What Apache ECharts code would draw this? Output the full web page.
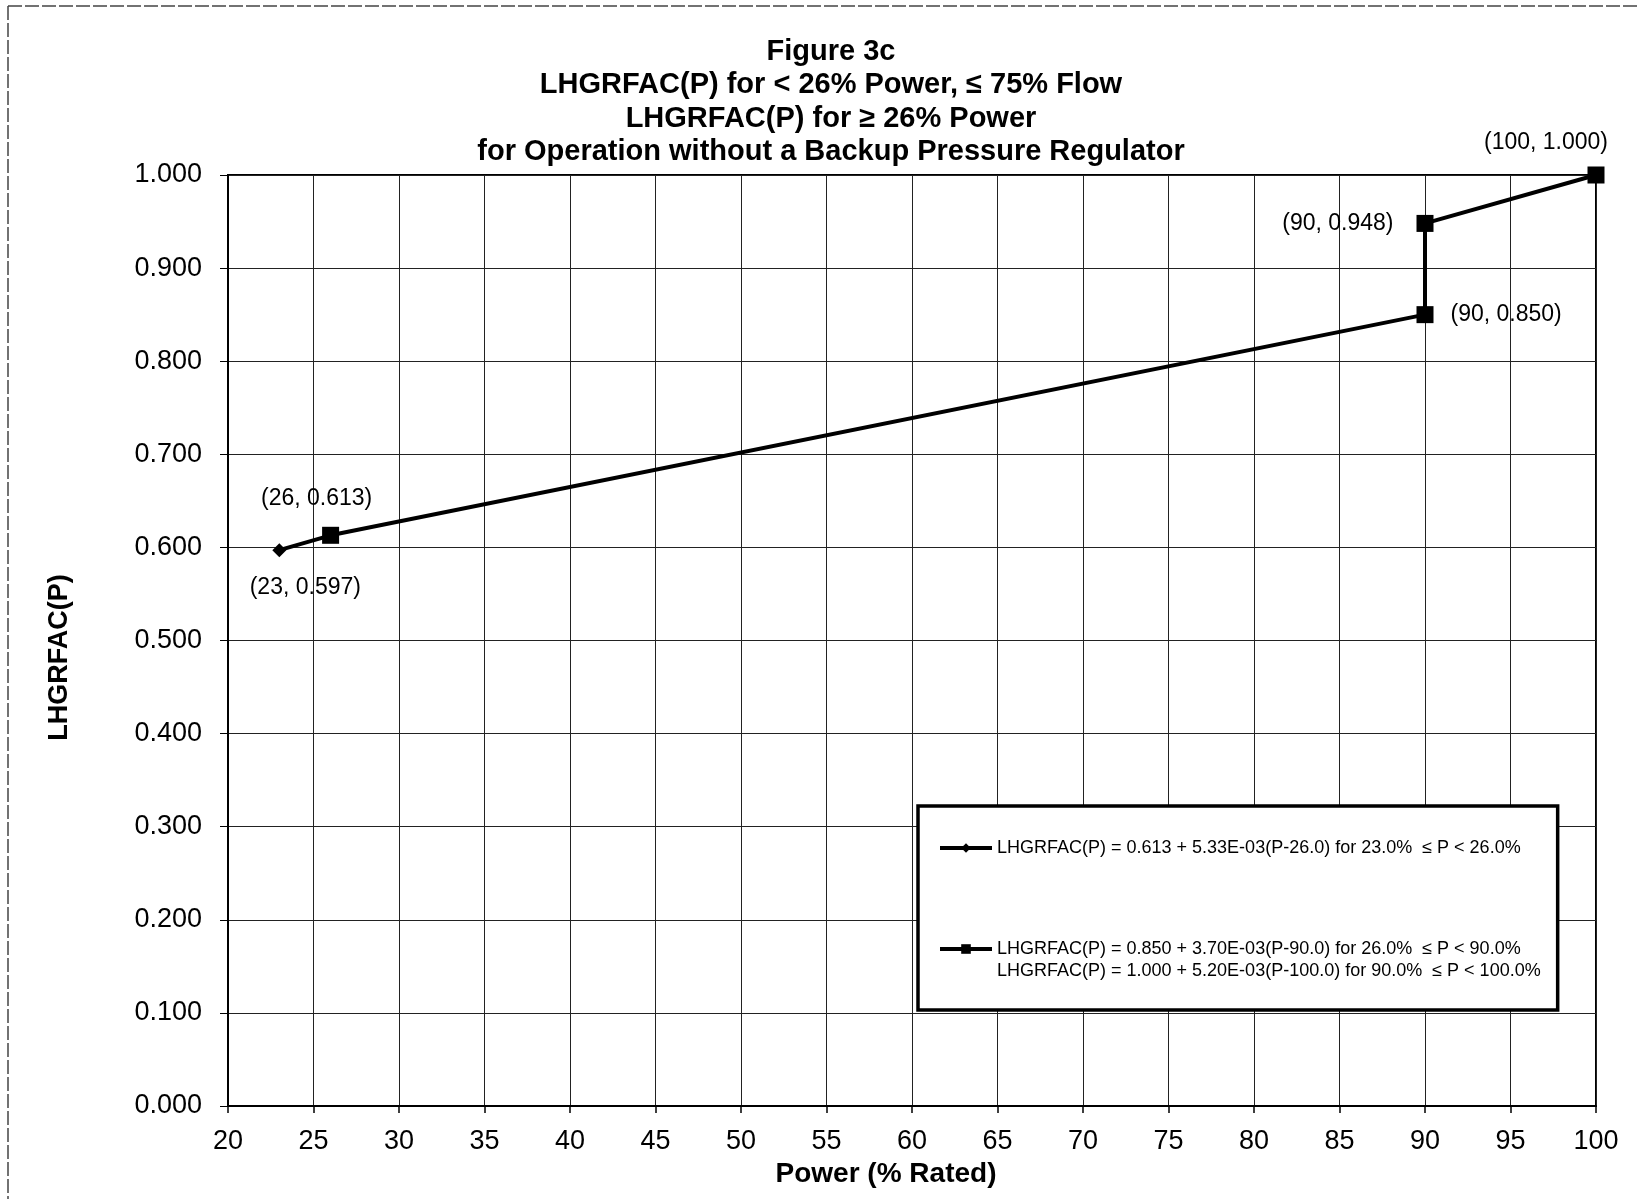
<!DOCTYPE html>
<html>
<head>
<meta charset="utf-8">
<script src="https://cdn.jsdelivr.net/npm/echarts@6/dist/echarts.min.js"></script>
<style>
html,body{margin:0;padding:0;background:#fff;}
#chart{width:1640px;height:1199px;}
</style>
</head>
<body>
<div id="chart"></div>
<script>
// ---- data ----
const titleLines = [
  'Figure 3c',
  'LHGRFAC(P) for < 26% Power, \u2264 75% Flow',
  'LHGRFAC(P) for \u2265 26% Power',
  'for Operation without a Backup Pressure Regulator'
];
const xAxisName = 'Power (% Rated)';
const yAxisName = 'LHGRFAC(P)';
const lowSeriesName = 'LHGRFAC(P) = 0.613 + 5.33E-03(P-26.0) for 23.0%  \u2264 P < 26.0%';
const highSeriesName = 'LHGRFAC(P) = 0.850 + 3.70E-03(P-90.0) for 26.0%  \u2264 P < 90.0%\nLHGRFAC(P) = 1.000 + 5.20E-03(P-100.0) for 90.0%  \u2264 P < 100.0%';
const lowPower = [23, 26];
const lowFactor = [0.597, 0.613];
const highPower = [26, 90, 90, 100];
const highFactor = [0.613, 0.850, 0.948, 1.000];
const xMin = 20, xMax = 100, xStep = 5;
const yMin = 0, yMax = 1, yStep = 0.1;

// ---- label placement (style, kept apart from data) ----
const lowLabelStyle = [
  {show: true, position: 'inside', offset: [26, 37]},
  {show: false}
];
const highLabelStyle = [
  {show: true, position: 'inside', offset: [-14, -37]},
  {show: true, position: 'right', distance: 17},
  {show: true, position: 'left', distance: 23},
  {show: true, position: 'inside', offset: [-50, -32]}
];

const FONT = '"Liberation Sans", Arial, Helvetica, sans-serif';
const fmtLabel = p => '(' + p.value[0] + ', ' + p.value[1].toFixed(3) + ')';

function buildData(xs, ys, labels) {
  return xs.map((x, i) => ({value: [x, ys[i]], label: labels[i]}));
}

const chart = echarts.init(document.getElementById('chart'), null, {renderer: 'canvas'});
const option = {
  animation: false,
  backgroundColor: '#fff',
  textStyle: {fontFamily: FONT, color: '#000'},
  title: {
    text: titleLines.join('\n'),
    left: 831,
    top: 35,
    padding: 0,
    textAlign: 'center',
    textStyle: {fontFamily: FONT, fontSize: 29, fontWeight: 'bold', color: '#000', lineHeight: 33.5}
  },
  grid: {
    left: 228, right: 44, top: 175, bottom: 93,
    show: true, borderColor: '#000', borderWidth: 2, backgroundColor: 'transparent'
  },
  xAxis: {
    type: 'value', min: xMin, max: xMax, interval: xStep,
    name: xAxisName, nameLocation: 'middle', nameGap: 45,
    nameTextStyle: {fontFamily: FONT, fontSize: 28, fontWeight: 'bold', color: '#000', padding: [0, 52, 0, 0]},
    axisLine: {show: true, onZero: false, lineStyle: {color: '#000', width: 2}},
    axisTick: {show: true, inside: false, length: 7, lineStyle: {color: '#000', width: 1.5}},
    axisLabel: {fontFamily: FONT, fontSize: 27, color: '#000', margin: 22},
    splitLine: {show: true, lineStyle: {color: '#222', width: 1}}
  },
  yAxis: {
    type: 'value', min: yMin, max: yMax, interval: yStep,
    name: yAxisName, nameLocation: 'middle', nameGap: 155,
    nameTextStyle: {fontFamily: FONT, fontSize: 27, fontWeight: 'bold', color: '#000', padding: [0, 34, 0, 0]},
    axisLine: {show: true, onZero: false, lineStyle: {color: '#000', width: 2}},
    axisTick: {show: true, inside: false, length: 8, lineStyle: {color: '#000', width: 1}},
    axisLabel: {fontFamily: FONT, fontSize: 27, color: '#000', margin: 26, formatter: v => v.toFixed(3)},
    splitLine: {show: true, lineStyle: {color: '#222', width: 1}}
  },
  legend: {
    orient: 'vertical',
    left: 918, top: 806,
    padding: [31, 17, 28, 20],
    itemGap: 57,
    itemWidth: 52, itemHeight: 12,
    backgroundColor: '#fff',
    borderColor: '#000', borderWidth: 3.5,
    data: [lowSeriesName, highSeriesName],
    lineStyle: {width: 4, color: '#000'},
    formatter: name => name.indexOf('\n') >= 0 ? ' \n' + name : name,
    textStyle: {fontFamily: FONT, fontSize: 18, color: '#000', lineHeight: 22}
  },
  series: [
    {
      name: lowSeriesName,
      type: 'line',
      data: buildData(lowPower, lowFactor, lowLabelStyle),
      symbol: 'diamond', symbolSize: 14,
      itemStyle: {color: '#000'},
      lineStyle: {color: '#000', width: 4},
      label: {fontFamily: FONT, fontSize: 23, color: '#000', formatter: fmtLabel},
      z: 2
    },
    {
      name: highSeriesName,
      type: 'line',
      data: buildData(highPower, highFactor, highLabelStyle),
      symbol: 'rect', symbolSize: 17,
      itemStyle: {color: '#000'},
      lineStyle: {color: '#000', width: 4},
      label: {fontFamily: FONT, fontSize: 23, color: '#000', formatter: fmtLabel},
      z: 3
    }
  ],
  graphic: [
    {type: 'line', shape: {x1: 8, y1: 6, x2: 8, y2: 1199}, style: {stroke: '#444', lineWidth: 1.5, lineDash: [14, 3]}, silent: true},
    {type: 'line', shape: {x1: 8, y1: 6, x2: 1640, y2: 6}, style: {stroke: '#444', lineWidth: 1.5, lineDash: [14, 3]}, silent: true}
  ]
};
chart.setOption(option);
</script>
</body>
</html>
